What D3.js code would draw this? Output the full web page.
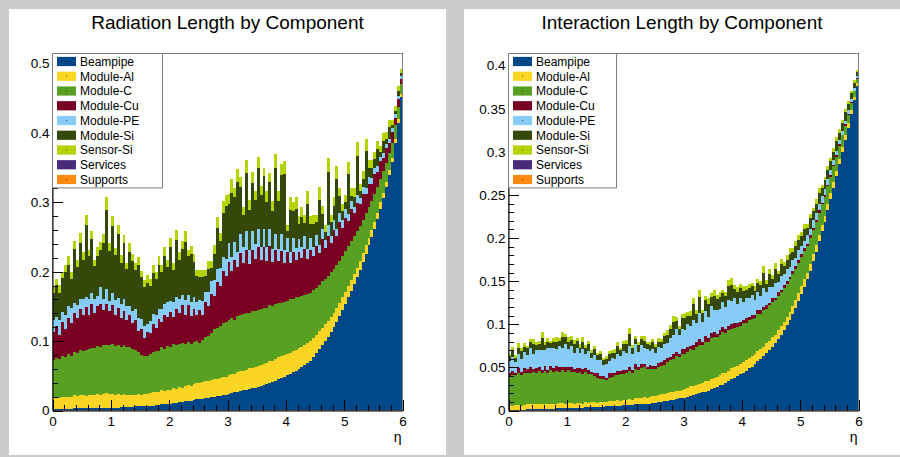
<!DOCTYPE html>
<html>
<head>
<meta charset="utf-8">
<script src="https://cdn.jsdelivr.net/npm/d3@7"></script>
<style>
  body { margin: 0; background: #cccccc; }
  svg { display: block; font-family: "Liberation Sans", Arial, Helvetica, sans-serif; }
</style>
</head>
<body>
<div id="chart"></div>
<script>
// eta binning shared by both histograms
const etaMin = 0, etaMax = 6, binWidth = 0.05;

const components = ["Beampipe", "Module-Al", "Module-C", "Module-Cu", "Module-PE",
  "Module-Si", "Sensor-Si", "Services", "Supports"];
const colors = ["#00478a", "#fbd523", "#58a021", "#7a0023", "#87cbf9",
  "#34480a", "#b5d300", "#4a2a7a", "#fe8a12"];

const xTicks = [0, 1, 2, 3, 4, 5, 6];
const radTicks = [0, 0.1, 0.2, 0.3, 0.4, 0.5];
const intTicks = [0, 0.05, 0.1, 0.15, 0.2, 0.25, 0.3, 0.35, 0.4];

// ---- radiation length per bin (X0) ----
const radBeampipe = [
  0.002,0.002,0.002,0.002,0.002,0.002,0.002,0.003,0.003,0.003,0.003,0.003,0.003,0.003,0.003,0.003,0.004,0.004,0.004,0.004,
  0.004,0.004,0.004,0.005,0.005,0.005,0.005,0.005,0.006,0.006,0.006,0.006,0.007,0.007,0.007,0.008,0.008,0.009,0.009,0.010,
  0.010,0.011,0.011,0.012,0.012,0.013,0.014,0.014,0.015,0.016,0.016,0.017,0.018,0.018,0.019,0.020,0.021,0.021,0.022,0.023,
  0.024,0.025,0.026,0.027,0.028,0.029,0.030,0.031,0.032,0.033,0.034,0.035,0.037,0.038,0.040,0.041,0.043,0.045,0.047,0.049,
  0.051,0.053,0.055,0.057,0.060,0.063,0.066,0.069,0.072,0.077,0.083,0.088,0.094,0.100,0.106,0.113,0.120,0.128,0.136,0.145,
  0.154,0.163,0.172,0.182,0.192,0.203,0.214,0.226,0.238,0.250,0.262,0.276,0.291,0.306,0.322,0.339,0.358,0.385,0.415,0.452];
const radModuleAl = [
  0.016,0.017,0.016,0.018,0.017,0.018,0.017,0.019,0.018,0.019,0.019,0.018,0.020,0.019,0.020,0.021,0.019,0.020,0.021,0.020,
  0.020,0.019,0.020,0.018,0.019,0.018,0.017,0.018,0.017,0.018,0.017,0.018,0.017,0.018,0.019,0.018,0.019,0.020,0.019,0.020,
  0.020,0.021,0.020,0.022,0.021,0.022,0.023,0.022,0.023,0.024,0.023,0.024,0.025,0.024,0.025,0.026,0.025,0.026,0.027,0.026,
  0.027,0.028,0.027,0.028,0.029,0.028,0.029,0.030,0.029,0.030,0.030,0.031,0.030,0.031,0.032,0.031,0.031,0.032,0.031,0.031,
  0.031,0.030,0.031,0.030,0.030,0.029,0.029,0.028,0.028,0.027,0.026,0.026,0.025,0.024,0.023,0.022,0.021,0.020,0.019,0.018,
  0.017,0.016,0.016,0.015,0.014,0.013,0.013,0.012,0.011,0.010,0.010,0.009,0.009,0.008,0.007,0.007,0.006,0.006,0.005,0.004];
const radModuleC = [
  0.055,0.057,0.056,0.059,0.058,0.061,0.060,0.063,0.062,0.065,0.064,0.066,0.065,0.068,0.067,0.069,0.068,0.071,0.070,0.071,
  0.072,0.070,0.071,0.069,0.070,0.068,0.069,0.066,0.064,0.060,0.057,0.055,0.054,0.056,0.058,0.060,0.059,0.062,0.061,0.063,
  0.062,0.064,0.063,0.062,0.064,0.061,0.062,0.060,0.061,0.060,0.059,0.061,0.063,0.066,0.068,0.071,0.073,0.075,0.077,0.078,
  0.079,0.080,0.078,0.081,0.080,0.082,0.081,0.080,0.082,0.081,0.081,0.080,0.081,0.079,0.080,0.078,0.079,0.078,0.077,0.077,
  0.076,0.077,0.075,0.076,0.074,0.073,0.072,0.071,0.070,0.069,0.068,0.067,0.067,0.066,0.065,0.064,0.063,0.062,0.061,0.060,
  0.059,0.058,0.056,0.054,0.052,0.050,0.048,0.046,0.044,0.042,0.040,0.037,0.034,0.031,0.028,0.025,0.022,0.020,0.017,0.015];
const radModuleCu = [
  0.040,0.046,0.035,0.049,0.041,0.053,0.047,0.055,0.050,0.060,0.052,0.062,0.049,0.064,0.051,0.058,0.063,0.050,0.059,0.048,
  0.056,0.045,0.053,0.042,0.050,0.040,0.047,0.037,0.044,0.031,0.038,0.026,0.035,0.030,0.041,0.033,0.046,0.036,0.049,0.042,
  0.050,0.039,0.053,0.044,0.055,0.042,0.053,0.040,0.048,0.038,0.047,0.036,0.050,0.042,0.056,0.048,0.066,0.058,0.075,0.067,
  0.084,0.068,0.086,0.071,0.090,0.074,0.092,0.070,0.088,0.075,0.091,0.071,0.087,0.068,0.085,0.064,0.078,0.060,0.075,0.056,
  0.070,0.052,0.068,0.054,0.064,0.055,0.066,0.051,0.062,0.050,0.060,0.046,0.061,0.044,0.058,0.042,0.056,0.041,0.055,0.040,
  0.048,0.036,0.046,0.033,0.041,0.031,0.037,0.028,0.034,0.025,0.029,0.022,0.025,0.019,0.021,0.015,0.016,0.011,0.012,0.007];
const radModulePE = [
  0.017,0.013,0.021,0.014,0.020,0.016,0.022,0.015,0.019,0.014,0.022,0.015,0.023,0.016,0.020,0.014,0.024,0.016,0.021,0.015,
  0.017,0.021,0.014,0.020,0.016,0.019,0.013,0.018,0.015,0.019,0.014,0.017,0.012,0.018,0.014,0.019,0.015,0.020,0.016,0.021,
  0.016,0.022,0.017,0.020,0.015,0.021,0.014,0.020,0.016,0.019,0.014,0.020,0.015,0.021,0.018,0.023,0.019,0.026,0.020,0.025,
  0.027,0.020,0.026,0.021,0.028,0.022,0.027,0.020,0.028,0.021,0.026,0.019,0.027,0.020,0.025,0.019,0.024,0.018,0.025,0.018,
  0.021,0.016,0.020,0.017,0.019,0.015,0.018,0.014,0.017,0.013,0.016,0.012,0.015,0.012,0.015,0.011,0.014,0.011,0.013,0.011,
  0.012,0.010,0.012,0.009,0.011,0.009,0.010,0.008,0.010,0.008,0.008,0.008,0.007,0.007,0.006,0.006,0.005,0.005,0.004,0.004];
const radModuleSi = [
  0.040,0.046,0.039,0.049,0.061,0.060,0.042,0.078,0.055,0.081,0.057,0.103,0.062,0.077,0.047,0.057,0.054,0.080,0.114,0.072,
  0.097,0.065,0.092,0.059,0.081,0.054,0.078,0.071,0.057,0.075,0.060,0.056,0.059,0.051,0.059,0.051,0.063,0.052,0.069,0.051,
  0.077,0.045,0.082,0.057,0.066,0.084,0.056,0.069,0.051,0.037,0.034,0.034,0.023,0.033,0.019,0.038,0.059,0.038,0.063,0.076,
  0.057,0.093,0.065,0.102,0.067,0.047,0.083,0.058,0.069,0.063,0.087,0.074,0.076,0.064,0.068,0.054,0.095,0.069,0.084,0.110,
  0.009,0.061,0.039,0.057,0.022,0.044,0.019,0.064,0.020,0.033,0.018,0.065,0.021,0.011,0.077,0.019,0.021,0.071,0.025,0.013,
  0.011,0.058,0.007,0.015,0.057,0.010,0.011,0.054,0.013,0.014,0.014,0.025,0.006,0.018,0.008,0.017,0.004,0.004,0.008,0.004];
const radSensorSi = [
  0.010,0.008,0.012,0.009,0.011,0.013,0.009,0.012,0.010,0.014,0.011,0.015,0.010,0.012,0.009,0.013,0.011,0.014,0.018,0.012,
  0.014,0.010,0.013,0.011,0.012,0.009,0.013,0.011,0.010,0.012,0.009,0.010,0.011,0.009,0.012,0.010,0.013,0.011,0.012,0.010,
  0.013,0.010,0.014,0.011,0.012,0.015,0.010,0.012,0.011,0.009,0.010,0.011,0.009,0.012,0.010,0.013,0.016,0.012,0.018,0.015,
  0.014,0.020,0.013,0.018,0.015,0.012,0.019,0.014,0.016,0.013,0.017,0.014,0.012,0.016,0.013,0.015,0.020,0.014,0.016,0.019,
  0.010,0.018,0.012,0.017,0.011,0.014,0.012,0.019,0.011,0.013,0.011,0.018,0.012,0.010,0.020,0.011,0.013,0.019,0.012,0.011,
  0.010,0.017,0.011,0.012,0.020,0.011,0.012,0.018,0.011,0.012,0.010,0.012,0.009,0.011,0.009,0.010,0.008,0.008,0.007,0.006];
// no visible contribution in either plot
const radServices = [];
const radSupports = [];

// ---- interaction length per bin (lambda_I) ----
const intBeampipe = [
  0.001,0.001,0.001,0.001,0.001,0.001,0.002,0.002,0.002,0.002,0.002,0.002,0.002,0.002,0.002,0.002,0.003,0.003,0.003,0.003,
  0.003,0.003,0.003,0.003,0.003,0.003,0.004,0.004,0.004,0.004,0.004,0.004,0.004,0.005,0.005,0.005,0.005,0.005,0.005,0.006,
  0.006,0.006,0.006,0.007,0.007,0.007,0.008,0.008,0.008,0.009,0.009,0.010,0.010,0.011,0.011,0.012,0.012,0.013,0.014,0.014,
  0.015,0.016,0.017,0.018,0.019,0.020,0.021,0.022,0.023,0.025,0.026,0.027,0.029,0.030,0.032,0.034,0.036,0.038,0.040,0.042,
  0.044,0.046,0.049,0.051,0.054,0.057,0.060,0.063,0.067,0.070,0.074,0.078,0.083,0.088,0.093,0.099,0.105,0.112,0.119,0.127,
  0.135,0.143,0.152,0.162,0.173,0.184,0.196,0.208,0.219,0.232,0.245,0.258,0.272,0.286,0.300,0.314,0.328,0.344,0.360,0.376];
const intModuleAl = [
  0.005,0.004,0.005,0.005,0.004,0.005,0.005,0.006,0.005,0.005,0.006,0.005,0.006,0.005,0.006,0.006,0.005,0.006,0.006,0.005,
  0.006,0.006,0.005,0.006,0.006,0.005,0.006,0.005,0.006,0.006,0.005,0.006,0.006,0.005,0.006,0.006,0.006,0.007,0.006,0.006,
  0.006,0.007,0.006,0.007,0.007,0.007,0.008,0.007,0.008,0.008,0.008,0.008,0.009,0.008,0.009,0.009,0.009,0.010,0.009,0.010,
  0.010,0.010,0.011,0.010,0.011,0.011,0.011,0.012,0.011,0.012,0.012,0.012,0.012,0.013,0.012,0.012,0.013,0.012,0.012,0.012,
  0.012,0.012,0.012,0.012,0.011,0.012,0.011,0.011,0.011,0.011,0.011,0.010,0.010,0.010,0.010,0.010,0.009,0.009,0.009,0.009,
  0.009,0.009,0.008,0.008,0.008,0.008,0.008,0.007,0.007,0.007,0.007,0.007,0.006,0.006,0.006,0.005,0.005,0.005,0.004,0.004];
const intModuleC = [
  0.034,0.036,0.035,0.037,0.036,0.038,0.037,0.036,0.038,0.037,0.038,0.036,0.038,0.037,0.039,0.037,0.038,0.036,0.038,0.037,
  0.038,0.036,0.037,0.035,0.036,0.034,0.035,0.033,0.032,0.030,0.029,0.027,0.026,0.025,0.027,0.028,0.030,0.029,0.031,0.030,
  0.031,0.033,0.032,0.034,0.033,0.035,0.034,0.033,0.032,0.031,0.031,0.032,0.033,0.034,0.036,0.037,0.039,0.040,0.039,0.041,
  0.041,0.042,0.043,0.042,0.044,0.045,0.044,0.046,0.045,0.047,0.047,0.046,0.047,0.048,0.046,0.047,0.045,0.046,0.045,0.044,
  0.045,0.044,0.044,0.043,0.042,0.043,0.041,0.042,0.040,0.041,0.041,0.040,0.040,0.039,0.039,0.038,0.038,0.037,0.036,0.035,
  0.034,0.033,0.031,0.030,0.028,0.027,0.025,0.024,0.022,0.021,0.019,0.018,0.016,0.015,0.013,0.011,0.010,0.008,0.006,0.005];
const intModuleCu = [
  0.004,0.005,0.003,0.006,0.004,0.005,0.004,0.006,0.003,0.005,0.005,0.004,0.006,0.003,0.005,0.004,0.006,0.005,0.004,0.006,
  0.004,0.005,0.003,0.005,0.004,0.006,0.004,0.005,0.003,0.004,0.005,0.003,0.004,0.003,0.005,0.004,0.003,0.005,0.004,0.005,
  0.004,0.005,0.003,0.006,0.004,0.005,0.004,0.003,0.005,0.004,0.004,0.005,0.004,0.006,0.005,0.004,0.006,0.005,0.004,0.006,
  0.005,0.006,0.004,0.006,0.005,0.007,0.004,0.006,0.005,0.006,0.006,0.004,0.005,0.006,0.004,0.005,0.006,0.005,0.004,0.005,
  0.004,0.005,0.004,0.005,0.004,0.004,0.005,0.004,0.004,0.003,0.004,0.003,0.004,0.003,0.004,0.003,0.003,0.004,0.003,0.003,
  0.003,0.003,0.002,0.003,0.003,0.002,0.003,0.002,0.002,0.002,0.002,0.002,0.002,0.002,0.001,0.002,0.001,0.001,0.001,0.001];
const intModulePE = [
  0.013,0.016,0.012,0.017,0.015,0.019,0.016,0.022,0.017,0.021,0.019,0.023,0.018,0.025,0.020,0.024,0.019,0.025,0.021,0.026,
  0.020,0.025,0.019,0.024,0.018,0.023,0.017,0.022,0.016,0.020,0.015,0.018,0.013,0.016,0.014,0.018,0.016,0.020,0.017,0.022,
  0.020,0.024,0.018,0.023,0.017,0.022,0.018,0.020,0.016,0.019,0.015,0.019,0.016,0.018,0.017,0.022,0.021,0.027,0.021,0.024,
  0.022,0.026,0.023,0.029,0.022,0.030,0.023,0.029,0.024,0.031,0.025,0.028,0.025,0.029,0.026,0.030,0.027,0.029,0.022,0.027,
  0.021,0.024,0.021,0.023,0.017,0.022,0.016,0.022,0.015,0.018,0.013,0.017,0.012,0.016,0.012,0.014,0.011,0.013,0.010,0.012,
  0.010,0.009,0.010,0.008,0.009,0.008,0.007,0.008,0.007,0.006,0.006,0.006,0.005,0.005,0.004,0.004,0.004,0.003,0.003,0.002];
const intModuleSi = [
  0.006,0.008,0.005,0.007,0.009,0.006,0.008,0.007,0.012,0.006,0.007,0.014,0.006,0.008,0.006,0.007,0.009,0.006,0.013,0.008,
  0.009,0.007,0.010,0.008,0.006,0.009,0.007,0.008,0.006,0.007,0.006,0.007,0.005,0.006,0.008,0.006,0.007,0.009,0.007,0.008,
  0.010,0.014,0.007,0.006,0.008,0.007,0.009,0.006,0.007,0.008,0.007,0.006,0.008,0.009,0.010,0.011,0.016,0.009,0.008,0.012,
  0.014,0.010,0.012,0.018,0.011,0.019,0.010,0.013,0.016,0.011,0.017,0.012,0.014,0.010,0.013,0.016,0.019,0.011,0.014,0.012,
  0.013,0.009,0.012,0.010,0.011,0.010,0.012,0.018,0.010,0.015,0.010,0.016,0.009,0.014,0.010,0.011,0.015,0.009,0.014,0.012,
  0.011,0.013,0.009,0.012,0.010,0.011,0.013,0.009,0.010,0.011,0.010,0.009,0.011,0.008,0.009,0.010,0.008,0.007,0.006,0.005];
const intSensorSi = [
  0.003,0.004,0.003,0.005,0.003,0.004,0.003,0.004,0.006,0.003,0.004,0.007,0.003,0.004,0.003,0.004,0.005,0.003,0.006,0.004,
  0.005,0.004,0.005,0.003,0.004,0.005,0.003,0.004,0.003,0.004,0.003,0.004,0.003,0.003,0.004,0.003,0.004,0.005,0.003,0.004,
  0.005,0.007,0.004,0.003,0.004,0.003,0.005,0.003,0.004,0.004,0.003,0.004,0.003,0.004,0.005,0.004,0.007,0.004,0.003,0.005,
  0.006,0.004,0.005,0.008,0.004,0.008,0.004,0.005,0.007,0.004,0.007,0.005,0.006,0.004,0.005,0.007,0.008,0.004,0.006,0.005,
  0.005,0.004,0.005,0.004,0.005,0.004,0.005,0.008,0.004,0.006,0.004,0.007,0.004,0.006,0.004,0.005,0.007,0.004,0.006,0.005,
  0.005,0.006,0.004,0.005,0.004,0.005,0.006,0.004,0.004,0.005,0.004,0.004,0.005,0.004,0.004,0.004,0.003,0.003,0.003,0.002];
const intServices = [];
const intSupports = [];

const radSeries = [radBeampipe, radModuleAl, radModuleC, radModuleCu, radModulePE,
  radModuleSi, radSensorSi, radServices, radSupports];
const intSeries = [intBeampipe, intModuleAl, intModuleC, intModuleCu, intModulePE,
  intModuleSi, intSensorSi, intServices, intSupports];

// one row per bin edge, last edge repeats the last bin so the step reaches eta = 6
function binTable(series) {
  let n = series[0].length;
  return d3.range(n + 1).map(i => {
    let row = { eta: etaMin + i * binWidth };
    components.forEach((c, k) => {
      let s = series[k];
      row[c] = s.length ? s[Math.min(i, n - 1)] : 0;
    });
    return row;
  });
}

function stackChart() {
  let title = "",
    yMax = 1,
    yTicks = [],
    yMinorStep = 0.1,
    legendWidth = 110;

  function chart(svg, box, series) {
    let g = svg.append("g");

    g.append("rect")
      .attr("x", box.panel[0]).attr("y", box.panel[1])
      .attr("width", box.panel[2]).attr("height", box.panel[3])
      .attr("fill", "#fff");

    g.append("text")
      .attr("x", box.panel[0] + box.panel[2] / 2)
      .attr("y", 28.6)
      .attr("text-anchor", "middle")
      .attr("font-size", 19)
      .text(title);

    let x = d3.scaleLinear().domain([etaMin, etaMax]).range([box.left, box.right]);
    let y = d3.scaleLinear().domain([0, yMax]).range([box.bottom, box.top]);

    let layers = d3.stack().keys(components)(binTable(series));

    let area = d3.area()
      .curve(d3.curveStepAfter)
      .x(d => x(d.data.eta))
      .y0(d => y(d[0]))
      .y1(d => y(d[1]));

    g.append("g")
      .selectAll("path")
      .data(layers)
      .join("path")
      .attr("fill", (d, i) => colors[i])
      .attr("shape-rendering", "crispEdges")
      .attr("d", area);

    // frame
    g.append("rect")
      .attr("x", box.left).attr("y", box.top)
      .attr("width", box.right - box.left).attr("height", box.bottom - box.top)
      .attr("fill", "none")
      .attr("stroke", "#808080");

    let fmt = d3.format("~g");

    // x axis, ticks pointing inward
    let xMinor = d3.range(0, 31).map(i => i * 0.2).filter(v => Math.abs(v - Math.round(v)) > 1e-6);
    g.append("g")
      .attr("transform", "translate(0," + box.bottom + ")")
      .call(d3.axisBottom(x).tickValues(xMinor).tickSize(-6).tickFormat(""))
      .call(a => a.select(".domain").remove());
    let xAxis = g.append("g")
      .attr("transform", "translate(0," + box.bottom + ")")
      .call(d3.axisBottom(x).tickValues(xTicks).tickSizeInner(-11).tickSizeOuter(0)
        .tickPadding(6).tickFormat(fmt));

    // y axis
    let nMinor = Math.floor(yMax / yMinorStep + 1e-6);
    let yMinor = d3.range(0, nMinor + 1).map(i => i * yMinorStep);
    g.append("g")
      .attr("transform", "translate(" + box.left + ",0)")
      .call(d3.axisLeft(y).tickValues(yMinor).tickSize(-5).tickFormat(""))
      .call(a => a.select(".domain").remove());
    let yAxis = g.append("g")
      .attr("transform", "translate(" + box.left + ",0)")
      .call(d3.axisLeft(y).tickValues(yTicks).tickSizeInner(-10).tickSizeOuter(0)
        .tickPadding(3).tickFormat(fmt));

    g.selectAll(".tick line").attr("shape-rendering", "crispEdges");
    [xAxis, yAxis].forEach(a => a
      .attr("font-size", 13.5)
      .attr("font-family", null));

    g.append("text")
      .attr("x", box.right - 1)
      .attr("y", 441.5)
      .attr("text-anchor", "end")
      .attr("font-size", 14)
      .text("η");

    // legend box in the upper left corner
    let legend = g.append("g")
      .attr("transform", "translate(" + box.left + "," + box.top + ")");

    legend.append("rect")
      .attr("width", legendWidth)
      .attr("height", 134.4)
      .attr("fill", "#fff")
      .attr("stroke", "#808080");

    let entries = legend.selectAll(".entry")
      .data(components)
      .join("g")
      .attr("class", "entry")
      .attr("transform", (d, i) => "translate(0," + (8 + i * 14.75) + ")");

    entries.append("rect")
      .attr("x", 4.5).attr("y", -4.6)
      .attr("width", 19).attr("height", 9.2)
      .attr("fill", (d, i) => colors[i]);

    entries.append("rect")
      .attr("x", 13.5).attr("y", -0.5)
      .attr("width", 1).attr("height", 1)
      .attr("fill", "#000")
      .attr("opacity", 0.6);

    entries.append("text")
      .attr("x", 27.5)
      .attr("dy", "0.36em")
      .attr("font-size", 12)
      .text(d => d);

    return chart;
  }

  chart.title = function (_) {
    if (!arguments.length) return title;
    title = _;
    return chart;
  };

  chart.yMax = function (_) {
    if (!arguments.length) return yMax;
    yMax = _;
    return chart;
  };

  chart.yTicks = function (_) {
    if (!arguments.length) return yTicks;
    yTicks = _;
    return chart;
  };

  chart.yMinorStep = function (_) {
    if (!arguments.length) return yMinorStep;
    yMinorStep = _;
    return chart;
  };

  chart.legendWidth = function (_) {
    if (!arguments.length) return legendWidth;
    legendWidth = _;
    return chart;
  };

  return chart;
}

let svg = d3.select("#chart")
  .append("svg")
  .attr("width", 900)
  .attr("height", 457);

svg.append("rect")
  .attr("width", 900).attr("height", 457)
  .attr("fill", "#cccccc");

stackChart()
  .title("Radiation Length by Component")
  .yMax(0.5145)
  .yTicks(radTicks)
  .yMinorStep(0.02)
  .legendWidth(110)(svg, {
    panel: [9, 9, 437, 446],
    left: 52.5, right: 402.5, top: 53.5, bottom: 410.5
  }, radSeries);

stackChart()
  .title("Interaction Length by Component")
  .yMax(0.414)
  .yTicks(intTicks)
  .yMinorStep(0.01)
  .legendWidth(108)(svg, {
    panel: [464, 9, 436, 446],
    left: 508.5, right: 858.5, top: 53.5, bottom: 410.5
  }, intSeries);
</script>
</body>
</html>
